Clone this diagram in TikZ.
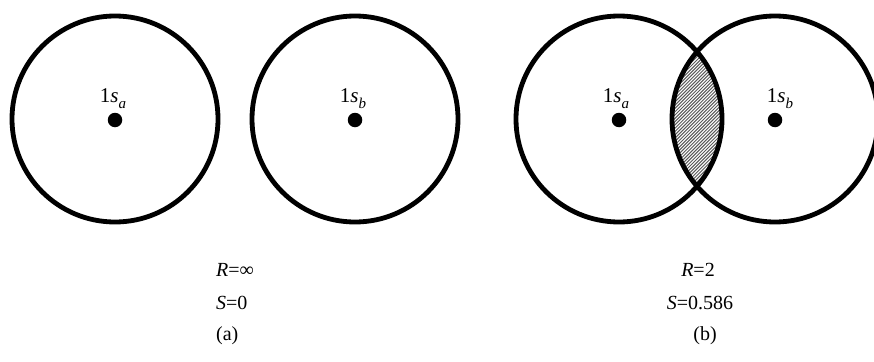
\documentclass[tikz,border=0pt]{standalone}
\usepackage{fontspec}
\setmainfont{Liberation Serif}
\begin{document}
\begin{tikzpicture}[x=1pt,y=-1pt,
  orb/.style={draw=black,line width=4.8pt},
  hatch/.style={draw=black!65,line width=1pt},
  nucleus/.style={circle,fill=black,inner sep=0pt,minimum size=14.5pt},
  orblabel/.style={font=\fontsize{21}{24}\selectfont,inner sep=0pt},
  caption/.style={font=\fontsize{20}{24}\selectfont,inner sep=0pt,anchor=west},
  captionc/.style={font=\fontsize{20}{24}\selectfont,inner sep=0pt}]
\newcommand{\orbsub}[1]{\raisebox{-0.28em}{\fontsize{15}{16}\selectfont\textit{#1}}}
\useasboundingbox (0,0) rectangle (874,361);
% (a)
\draw[orb] (115,119) circle (103);
\draw[orb] (355,119) circle (103);
\node[nucleus] (na) at (115,120) {};
\node[nucleus] (nb) at (355,120) {};
\node[orblabel] (la) at (113,99) {1\textit{s}\orbsub{a}};
\node[orblabel] (lb) at (353,99) {1\textit{s}\orbsub{b}};
\node[caption] (ra) at (216,270) {\textit{R}=∞};
\node[caption] (sa) at (216,303) {\textit{S}=0};
\node[caption] (ca) at (216,336) {(a)};
% (b)
\begin{scope}
  \clip (619,119) circle (103);
  \clip (775,119) circle (103);
  \foreach \k in {-30,...,60}{
    \draw[hatch] (560+3.3*\k,230) -- ++(230,-230);
  }
\end{scope}
\draw[orb] (619,119) circle (103);
\draw[orb] (775,119) circle (103);
\node[nucleus] (nc) at (619,120) {};
\node[nucleus] (nd) at (775,120) {};
\node[orblabel] (lc) at (616,99) {1\textit{s}\orbsub{a}};
\node[orblabel] (ld) at (780,99) {1\textit{s}\orbsub{b}};
\node[captionc] (rb) at (698,270) {\textit{R}=2};
\node[captionc] (sb) at (700,303) {\textit{S}=0.586};
\node[captionc] (cb) at (705,336) {(b)};
\end{tikzpicture}
\end{document}
